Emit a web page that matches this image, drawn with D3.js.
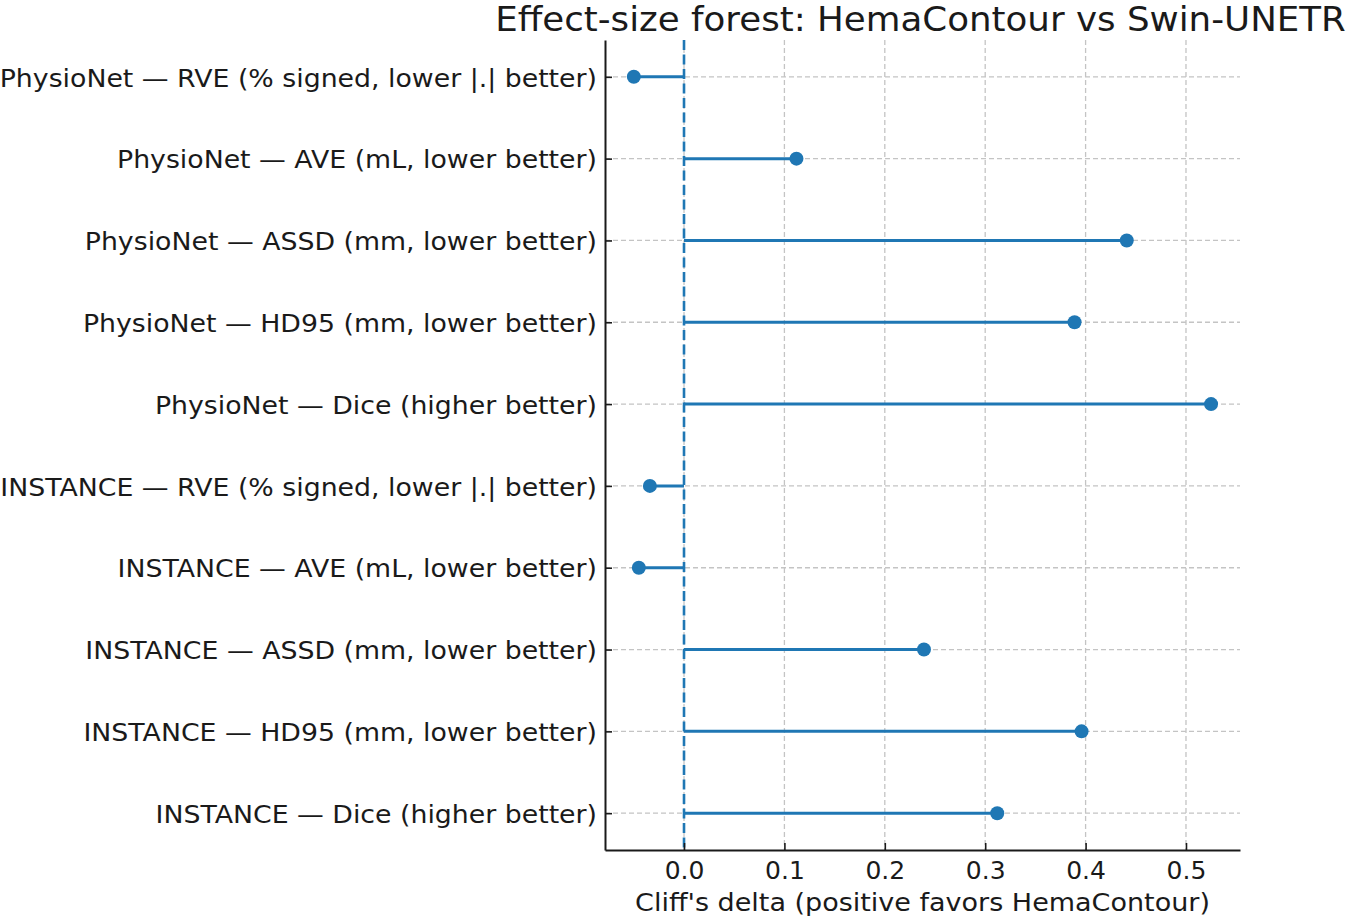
<!DOCTYPE html>
<html>
<head>
<meta charset="utf-8">
<script src="https://cdn.jsdelivr.net/npm/d3@7"></script>
<style>
    body { margin: 0; background: #fff; }
    text { font-family: "DejaVu Sans", sans-serif; fill: #1a1a1a; }
</style>
</head>
<body>
<div class="chart"></div>
<script>
// comparisons, top to bottom
let labels = [
    "PhysioNet — RVE (% signed, lower |.| better)",
    "PhysioNet — AVE (mL, lower better)",
    "PhysioNet — ASSD (mm, lower better)",
    "PhysioNet — HD95 (mm, lower better)",
    "PhysioNet — Dice (higher better)",
    "INSTANCE — RVE (% signed, lower |.| better)",
    "INSTANCE — AVE (mL, lower better)",
    "INSTANCE — ASSD (mm, lower better)",
    "INSTANCE — HD95 (mm, lower better)",
    "INSTANCE — Dice (higher better)"
]

let deltas = [-0.050, 0.112, 0.441, 0.389, 0.525, -0.034, -0.045, 0.239, 0.396, 0.312]

let xTicks = [0.0, 0.1, 0.2, 0.3, 0.4, 0.5]

let blue = "#1f77b4"

const W = 1350, H = 919
const margin = { top: 40, right: 110, bottom: 69, left: 605 }
const width = W - margin.left - margin.right
const height = H - margin.top - margin.bottom

// the reference glyphs are a bit wider than DejaVu at the same height
function stretch(sel, k) {
    sel.each(function() {
        const len = this.getComputedTextLength()
        d3.select(this)
            .attr('textLength', len * k)
            .attr('lengthAdjust', 'spacingAndGlyphs')
    })
}

const svg = d3.select('.chart')
    .append('svg')
    .attr('width', W)
    .attr('height', H)

const g = svg.append('g')
    .attr('transform', `translate(${margin.left}, ${margin.top})`)

const xScale = d3.scaleLinear()
    .domain([-0.0787, 0.5538])
    .range([0, width])

// matplotlib style: category index with 0.45 padding each end
const yScale = d3.scaleLinear()
    .domain([-0.45, labels.length - 1 + 0.45])
    .range([0, height])

// grid
g.append('g')
    .selectAll('line')
    .data(xTicks)
    .join('line')
    .attr('x1', d => xScale(d))
    .attr('x2', d => xScale(d))
    .attr('y1', 0)
    .attr('y2', height)
    .attr('stroke', '#c4c4c4')
    .attr('stroke-width', 1.3)
    .attr('stroke-dasharray', '5,3')

g.append('g')
    .selectAll('line')
    .data(labels)
    .join('line')
    .attr('x1', 0)
    .attr('x2', width)
    .attr('y1', (d, i) => yScale(i))
    .attr('y2', (d, i) => yScale(i))
    .attr('stroke', '#c4c4c4')
    .attr('stroke-width', 1.3)
    .attr('stroke-dasharray', '5,3')

// stems
g.append('g')
    .selectAll('line')
    .data(deltas)
    .join('line')
    .attr('x1', xScale(0))
    .attr('x2', d => xScale(d))
    .attr('y1', (d, i) => yScale(i))
    .attr('y2', (d, i) => yScale(i))
    .attr('stroke', blue)
    .attr('stroke-width', 3)

g.append('g')
    .selectAll('circle')
    .data(deltas)
    .join('circle')
    .attr('cx', d => xScale(d))
    .attr('cy', (d, i) => yScale(i))
    .attr('r', 7)
    .attr('fill', blue)

// zero reference
g.append('line')
    .attr('x1', xScale(0))
    .attr('x2', xScale(0))
    .attr('y1', 0)
    .attr('y2', height)
    .attr('stroke', blue)
    .attr('stroke-width', 2.6)
    .attr('stroke-dasharray', '10,4.5')

// axes
const xAxis = d3.axisBottom(xScale)
    .tickValues(xTicks)
    .tickFormat(d3.format('.1f'))
    .tickSizeInner(-7)
    .tickSizeOuter(0)
    .tickPadding(11)

const xAxisDraw = g.append('g')
    .attr('transform', `translate(0, ${height})`)
    .call(xAxis)

const yAxis = d3.axisLeft(yScale)
    .tickValues(d3.range(labels.length))
    .tickFormat(i => labels[i])
    .tickSizeInner(-7)
    .tickSizeOuter(0)
    .tickPadding(8)

const yAxisDraw = g.append('g')
    .call(yAxis)

g.selectAll('.domain').attr('stroke', '#1a1a1a').attr('stroke-width', 2)
g.selectAll('.tick line').attr('stroke', '#1a1a1a').attr('stroke-width', 1.6)
g.selectAll('.tick text').attr('font-size', '25px').attr('fill', '#1a1a1a')
yAxisDraw.selectAll('.tick text').attr('dy', '0.37em')
stretch(yAxisDraw.selectAll('.tick text'), 1.07)

// axis label
g.append('text')
    .attr('x', width / 2)
    .attr('y', height + 61)
    .attr('text-anchor', 'middle')
    .attr('font-size', '25px')
    .text("Cliff's delta (positive favors HemaContour)")
    .call(stretch, 1.08)

// title
g.append('text')
    .attr('x', width / 2 - 2)
    .attr('y', -9)
    .attr('text-anchor', 'middle')
    .attr('font-size', '33px')
    .attr('fill', '#262626')
    .text('Effect-size forest: HemaContour vs Swin-UNETR')
    .call(stretch, 1.08)
</script>
</body>
</html>
